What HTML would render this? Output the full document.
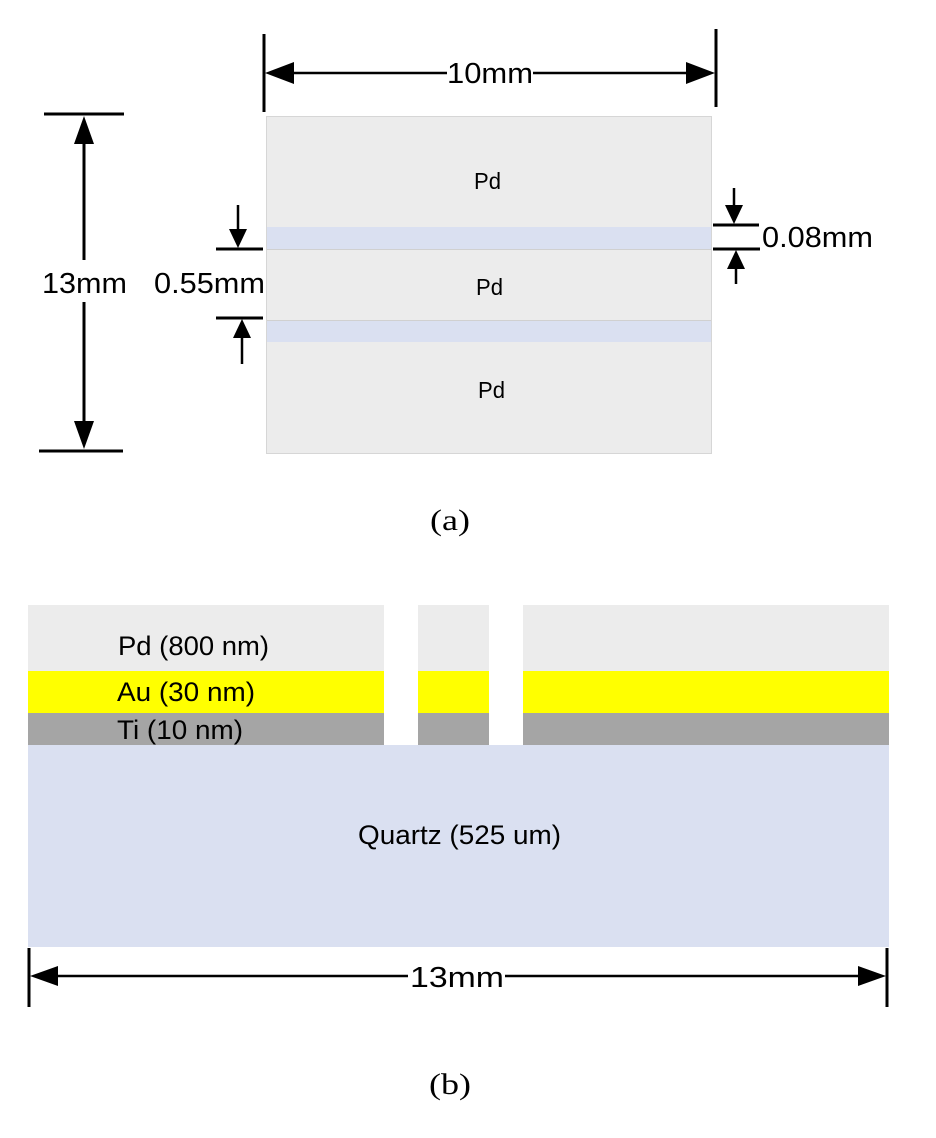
<!DOCTYPE html>
<html><head><meta charset="utf-8"><style>
html,body{margin:0;padding:0;background:#fff;}
svg{display:block;}
text{font-family:"Liberation Sans",sans-serif;fill:#000;}
.s{font-family:"Liberation Serif",serif;}
</style></head><body>
<svg width="936" height="1138" viewBox="0 0 936 1138" xmlns="http://www.w3.org/2000/svg">
<!-- (a) -->
<rect x="266.5" y="116.5" width="445" height="337" fill="#ececec" stroke="#d6d6d6" stroke-width="1"/>
<rect x="267" y="227" width="444" height="22" fill="#dae0f1"/>
<line x1="267" y1="249.5" x2="711" y2="249.5" stroke="#d0d0d0"/>
<rect x="267" y="321" width="444" height="21" fill="#dae0f1"/>
<line x1="267" y1="320.5" x2="711" y2="320.5" stroke="#d0d0d0"/>
<text x="474" y="189" font-size="23" textLength="27" lengthAdjust="spacingAndGlyphs">Pd</text>
<text x="476" y="295" font-size="23" textLength="27" lengthAdjust="spacingAndGlyphs">Pd</text>
<text x="478" y="398" font-size="23" textLength="27" lengthAdjust="spacingAndGlyphs">Pd</text>

<g stroke="#000" stroke-width="3">
<line x1="264" y1="34" x2="264" y2="112"/>
<line x1="716" y1="29" x2="716" y2="107"/>
<line x1="285" y1="73" x2="447" y2="73" stroke-width="2.5"/>
<line x1="533" y1="73" x2="695" y2="73" stroke-width="2.5"/>
<line x1="44" y1="114" x2="124" y2="114"/>
<line x1="39" y1="451" x2="123" y2="451"/>
<line x1="84" y1="135" x2="84" y2="260"/>
<line x1="84" y1="302" x2="84" y2="430"/>
<line x1="216" y1="249" x2="263" y2="249"/>
<line x1="216" y1="318" x2="263" y2="318"/>
<line x1="238" y1="205" x2="238" y2="232" stroke-width="2.5"/>
<line x1="242" y1="335" x2="242" y2="364" stroke-width="2.5"/>
<line x1="713" y1="225" x2="759" y2="225"/>
<line x1="713" y1="249" x2="760" y2="249"/>
<line x1="734" y1="188" x2="734" y2="208" stroke-width="2.5"/>
<line x1="736" y1="266" x2="736" y2="284" stroke-width="2.5"/>
<line x1="29" y1="948" x2="29" y2="1007"/>
<line x1="887" y1="948" x2="887" y2="1007"/>
<line x1="50" y1="976" x2="408" y2="976" stroke-width="2.5"/>
<line x1="505" y1="976" x2="866" y2="976" stroke-width="2.5"/>
</g>
<g fill="#000">
<polygon points="265,73 294,62 294,84"/>
<polygon points="715,73 686,62 686,84"/>
<polygon points="84,116 74,144 94,144"/>
<polygon points="84,449 74,421 94,421"/>
<polygon points="238,248 229,229 247,229"/>
<polygon points="242,319 233,338 251,338"/>
<polygon points="734,224 725,205 743,205"/>
<polygon points="736,250 727,269 745,269"/>
<polygon points="30,976 58,966 58,986"/>
<polygon points="886,976 858,966 858,986"/>
</g>
<text x="447" y="83" font-size="29" textLength="86" lengthAdjust="spacingAndGlyphs">10mm</text>
<text x="42" y="293" font-size="29" textLength="85" lengthAdjust="spacingAndGlyphs">13mm</text>
<text x="154" y="293" font-size="29" textLength="111" lengthAdjust="spacingAndGlyphs">0.55mm</text>
<text x="762" y="247" font-size="29" textLength="111" lengthAdjust="spacingAndGlyphs">0.08mm</text>
<text class="s" x="430" y="530" font-size="30" textLength="40" lengthAdjust="spacingAndGlyphs">(a)</text>

<!-- (b) -->
<rect x="28" y="605" width="861" height="66" fill="#ececec"/>
<rect x="28" y="671" width="861" height="42" fill="#ffff00"/>
<rect x="28" y="713" width="861" height="32" fill="#a5a5a5"/>
<rect x="28" y="745" width="861" height="202" fill="#dae0f1"/>
<rect x="384" y="605" width="34" height="140" fill="#fff"/>
<rect x="489" y="605" width="34" height="140" fill="#fff"/>
<text x="118" y="655" font-size="27" textLength="151" lengthAdjust="spacingAndGlyphs">Pd (800 nm)</text>
<text x="117" y="701" font-size="27" textLength="138" lengthAdjust="spacingAndGlyphs">Au (30 nm)</text>
<text x="117" y="739" font-size="27" textLength="126" lengthAdjust="spacingAndGlyphs">Ti (10 nm)</text>
<text x="358" y="844" font-size="27" textLength="203" lengthAdjust="spacingAndGlyphs">Quartz (525 um)</text>
<text x="410" y="987" font-size="29" textLength="94" lengthAdjust="spacingAndGlyphs">13mm</text>
<text class="s" x="429" y="1094" font-size="30" textLength="42" lengthAdjust="spacingAndGlyphs">(b)</text>
</svg>
</body></html>
